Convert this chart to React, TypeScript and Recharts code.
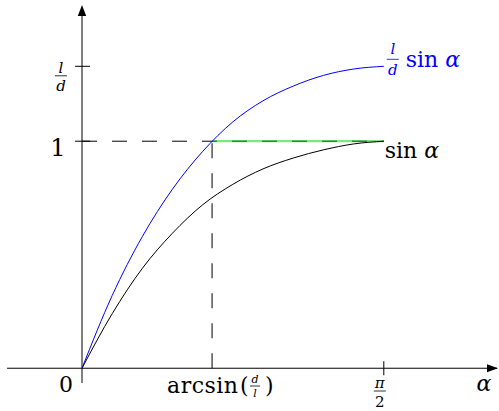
import { LineChart, Line, XAxis, YAxis, ReferenceLine, ReferenceDot } from "recharts";

const FONT = "DejaVu Serif, serif";
const BLUE = "#0000ff";
const serif = { fontFamily: FONT };
const italic = { fontFamily: FONT, fontStyle: "italic" as const };

// key abscissas / ordinates
const HALF_PI = 1.5708;
const ARCSIN_DL = 0.677;
const L_OVER_D = 1.33;

// sampled curves on α = 0 … π/2 in steps of π/20: sin α and (l/d) sin α
const alpha = [0, 0.157, 0.314, 0.471, 0.628, 0.785, 0.942, 1.1, 1.257, 1.414, 1.5708];
const sinValues = [0, 0.24, 0.44, 0.595, 0.72, 0.81, 0.878, 0.926, 0.962, 0.988, 1.0];
const scaledValues = [0, 0.32, 0.58, 0.789, 0.955, 1.085, 1.178, 1.243, 1.29, 1.318, 1.33];

const X_DOMAIN: [number, number] = [0, 2.16];
const Y_DOMAIN: [number, number] = [-0.065, 1.6];
const X_AXIS_START = -0.39;

const rows = alpha.map((a, i) => ({ a, sin: sinValues[i], scaled: scaledValues[i] }));

type TickProps = { x?: number; y?: number; payload?: { value: number } };

function AlphaTick({ x = 0, y = 0, payload }: TickProps) {
  const v = payload?.value;
  if (v === 0) {
    return (
      <text x={x - 16} y={y + 9} textAnchor="middle" fontSize={22} style={serif}>
        0
      </text>
    );
  }
  if (v === ARCSIN_DL) {
    return (
      <g fill="#000">
        <text x={x - 45} y={y + 10} fontSize={22} letterSpacing={0.5} style={serif}>
          arcsin
        </text>
        <text x={x + 28} y={y + 10} fontSize={22} style={serif}>
          (
        </text>
        <text x={x + 43} y={y} fontSize={11} textAnchor="middle" style={italic}>
          d
        </text>
        <line x1={x + 38} x2={x + 48} y1={y + 3} y2={y + 3} stroke="#000" strokeWidth={0.8} />
        <text x={x + 43} y={y + 14} fontSize={11} textAnchor="middle" style={italic}>
          l
        </text>
        <text x={x + 53} y={y + 10} fontSize={22} style={serif}>
          )
        </text>
      </g>
    );
  }
  return (
    <g fill="#000">
      <text x={x - 4} y={y + 5} fontSize={15} textAnchor="middle" style={italic}>
        π
      </text>
      <line x1={x - 10} x2={x + 2} y1={y + 8} y2={y + 8} stroke="#000" strokeWidth={0.8} />
      <text x={x - 4} y={y + 24} fontSize={15} textAnchor="middle" style={serif}>
        2
      </text>
    </g>
  );
}

function ValueTick({ x = 0, y = 0, payload }: TickProps) {
  if (payload?.value === 1) {
    return (
      <text x={x - 24} y={y + 15} textAnchor="middle" fontSize={24} style={serif}>
        1
      </text>
    );
  }
  return (
    <g fill="#000">
      <text x={x - 21} y={y + 7} fontSize={15} textAnchor="middle" style={italic}>
        l
      </text>
      <line x1={x - 27} x2={x - 15} y1={y + 9.5} y2={y + 9.5} stroke="#000" strokeWidth={0.8} />
      <text x={x - 21} y={y + 24.5} fontSize={15} textAnchor="middle" style={italic}>
        d
      </text>
    </g>
  );
}

type DotProps = { cx?: number; cy?: number };

function UpArrow({ cx = 0, cy = 0 }: DotProps) {
  return <path d={`M${cx},${cy} L${cx - 4.2},${cy + 11} L${cx + 4.2},${cy + 11} Z`} fill="#000" />;
}

function RightArrow({ cx = 0, cy = 0 }: DotProps) {
  return (
    <g>
      <path d={`M${cx + 1},${cy} L${cx - 10},${cy - 4} L${cx - 10},${cy + 4} Z`} fill="#000" />
      <text x={cx - 13} y={cy + 23} textAnchor="middle" fontSize={22} style={italic}>
        α
      </text>
    </g>
  );
}

function SinLabel({ cx = 0, cy = 0 }: DotProps) {
  return (
    <text x={cx + 1} y={cy + 17} fontSize={22} fill="#000" style={serif}>
      sin <tspan style={italic}>α</tspan>
    </text>
  );
}

function ScaledLabel({ cx = 0, cy = 0 }: DotProps) {
  return (
    <g fill={BLUE}>
      <text x={cx + 9} y={cy - 12} textAnchor="middle" fontSize={15} style={italic}>
        l
      </text>
      <line x1={cx + 3} x2={cx + 15} y1={cy - 7} y2={cy - 7} stroke={BLUE} strokeWidth={0.8} />
      <text x={cx + 9} y={cy + 9} textAnchor="middle" fontSize={15} style={italic}>
        d
      </text>
      <text x={cx + 22} y={cy + 1} fontSize={22} style={serif}>
        sin <tspan style={italic}>α</tspan>
      </text>
    </g>
  );
}

export default function App() {
  return (
    <div style={{ position: "absolute", left: 0, top: 0, background: "#fff" }}>
      <LineChart width={499} height={411} data={rows} margin={{ top: 5, right: 2, bottom: 0, left: 0 }}>
        <XAxis
          type="number"
          dataKey="a"
          domain={X_DOMAIN}
          allowDataOverflow
          ticks={[0, ARCSIN_DL, HALF_PI]}
          interval={0}
          axisLine={false}
          tickLine={false}
          tickSize={0}
          tickMargin={0}
          height={28}
          tick={AlphaTick}
        />
        <YAxis
          type="number"
          domain={Y_DOMAIN}
          allowDataOverflow
          ticks={[1, L_OVER_D]}
          interval={0}
          axisLine={false}
          tickLine={false}
          tickSize={0}
          tickMargin={0}
          width={82}
          tick={ValueTick}
        />

        {/* axes through the origin */}
        <ReferenceLine
          segment={[{ x: X_AXIS_START, y: 0 }, { x: X_DOMAIN[1], y: 0 }]}
          stroke="#000"
          strokeWidth={1}
          ifOverflow="visible"
        />
        <ReferenceLine
          segment={[{ x: 0, y: Y_DOMAIN[0] }, { x: 0, y: Y_DOMAIN[1] - 0.03 }]}
          stroke="#000"
          strokeWidth={1}
          ifOverflow="visible"
        />
        <ReferenceDot x={0} y={Y_DOMAIN[1]} r={0} ifOverflow="visible" shape={UpArrow} />
        <ReferenceDot x={X_DOMAIN[1]} y={0} r={0} ifOverflow="visible" shape={RightArrow} />

        {/* tick marks */}
        <ReferenceLine segment={[{ x: HALF_PI, y: -0.031 }, { x: HALF_PI, y: 0.031 }]} stroke="#000" ifOverflow="visible" />
        <ReferenceLine segment={[{ x: -0.036, y: 1 }, { x: 0.042, y: 1 }]} stroke="#000" ifOverflow="visible" />
        <ReferenceLine segment={[{ x: -0.036, y: L_OVER_D }, { x: 0.042, y: L_OVER_D }]} stroke="#000" ifOverflow="visible" />

        {/* guides */}
        <ReferenceLine
          segment={[{ x: 0, y: 1 }, { x: HALF_PI, y: 1 }]}
          stroke="#000"
          strokeDasharray="15 15"
          ifOverflow="visible"
        />
        <ReferenceLine
          segment={[{ x: ARCSIN_DL, y: 0 }, { x: ARCSIN_DL, y: 1 }]}
          stroke="#000"
          strokeDasharray="15 15"
          ifOverflow="visible"
        />
        <ReferenceLine
          segment={[{ x: ARCSIN_DL, y: 1 }, { x: HALF_PI, y: 1 }]}
          stroke="#00d000"
          strokeOpacity={0.5}
          strokeWidth={2.2}
          ifOverflow="visible"
        />

        <Line type="monotone" dataKey="sin" stroke="#000" strokeWidth={1} dot={false} isAnimationActive={false} />
        <Line type="monotone" dataKey="scaled" stroke={BLUE} strokeWidth={1} dot={false} isAnimationActive={false} />

        <ReferenceDot x={HALF_PI} y={1} r={0} ifOverflow="visible" shape={SinLabel} />
        <ReferenceDot x={HALF_PI} y={L_OVER_D} r={0} ifOverflow="visible" shape={ScaledLabel} />
      </LineChart>
    </div>
  );
}
